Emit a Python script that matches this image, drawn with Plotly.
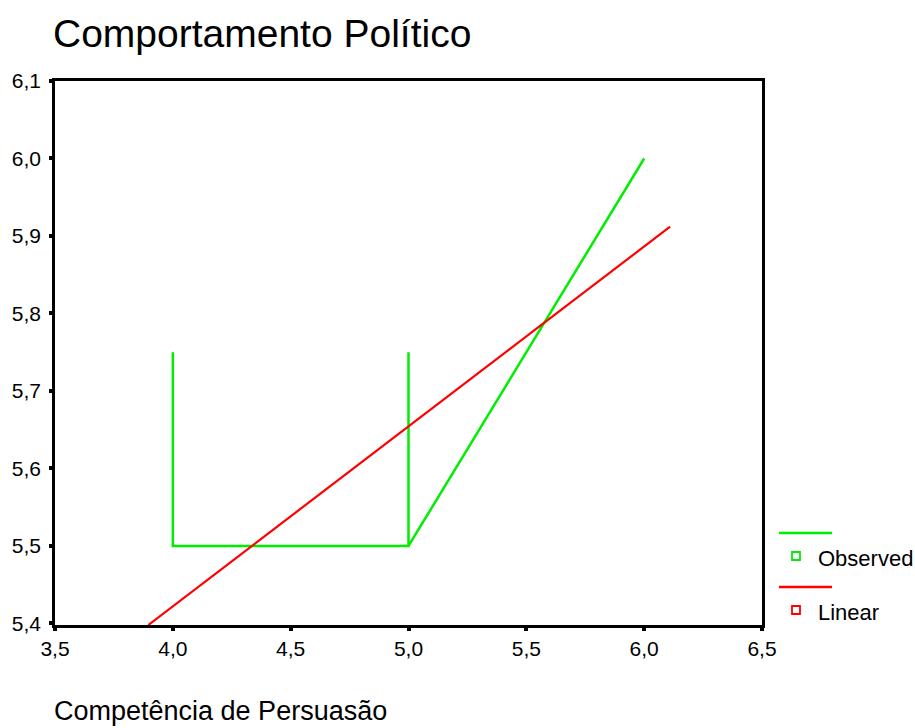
import plotly.graph_objects as go

# Observed values (Competência de Persuasão vs Comportamento Político)
obs_x = [4.0, 4.0, 5.0, 5.0, 5.0, 6.0]
obs_y = [5.75, 5.5, 5.5, 5.75, 5.5, 6.0]

# Linear fit, drawn across its plotted extent
lin_x = [3.896, 6.110]
lin_y = [5.398, 5.912]

x_ticks = [3.5, 4.0, 4.5, 5.0, 5.5, 6.0, 6.5]
x_tick_text = ["3,5", "4,0", "4,5", "5,0", "5,5", "6,0", "6,5"]
y_ticks = [5.4, 5.5, 5.6, 5.7, 5.8, 5.9, 6.0, 6.1]
y_tick_text = ["5,4", "5,5", "5,6", "5,7", "5,8", "5,9", "6,0", "6,1"]

legend_names = ["Observed", "Linear"]
legend_colors = ["#00ee00", "#ff0000"]

FONT = "Liberation Sans, Arial, sans-serif"

fig = go.Figure()
fig.add_trace(go.Scatter(x=obs_x, y=obs_y, mode="lines",
                         line=dict(color=legend_colors[0], width=2.5),
                         name=legend_names[0], showlegend=False))
fig.add_trace(go.Scatter(x=lin_x, y=lin_y, mode="lines",
                         line=dict(color=legend_colors[1], width=2.2),
                         name=legend_names[1], showlegend=False))

axis_common = dict(showgrid=False, zeroline=False, showline=True, mirror=True,
                   linecolor="black", linewidth=2.5, ticks="outside",
                   ticklen=3, tickwidth=4, tickcolor="black",
                   tickfont=dict(family=FONT, size=21, color="black"))

fig.update_xaxes(range=[3.5, 6.5], tickvals=x_ticks, ticktext=x_tick_text,
                 **axis_common)
fig.update_yaxes(range=[5.398, 6.1], tickvals=y_ticks, ticktext=y_tick_text,
                 ticklabelstandoff=4, **axis_common)

# Custom legend: a line sample above a small square and the series name
shapes = []
annotations = []
W, H = 915, 728
L, R, T, B = 55, 153, 81, 103
pw, ph = W - L - R, H - T - B


def px_to_paper(px, py):
    return (px - L) / pw, (H - B - py) / ph


for i, (name, color) in enumerate(zip(legend_names, legend_colors)):
    y_line = 533 + i * 54
    x0, yl = px_to_paper(779, y_line)
    x1, _ = px_to_paper(832, y_line)
    shapes.append(dict(type="line", xref="paper", yref="paper",
                       x0=x0, x1=x1, y0=yl, y1=yl,
                       line=dict(color=color, width=2.5)))
    sx0, sy0 = px_to_paper(792, y_line + 19)
    sx1, sy1 = px_to_paper(800, y_line + 27)
    shapes.append(dict(type="rect", xref="paper", yref="paper",
                       x0=sx0, x1=sx1, y0=sy1, y1=sy0,
                       line=dict(color=color, width=1.8),
                       fillcolor="white"))
    tx, ty = px_to_paper(816, y_line + 25)
    annotations.append(dict(x=tx, y=ty, xref="paper", yref="paper",
                            text=name, showarrow=False, xanchor="left",
                            yanchor="middle",
                            font=dict(family=FONT, size=22, color="black")))

ax_tx, ax_ty = px_to_paper(52, 711)
annotations.append(dict(x=ax_tx, y=ax_ty, xref="paper", yref="paper",
                        text="Competência de Persuasão", showarrow=False,
                        xanchor="left", yanchor="middle",
                        font=dict(family=FONT, size=27, color="black")))

fig.update_layout(
    width=W, height=H,
    margin=dict(l=L, r=R, t=T, b=B),
    paper_bgcolor="white", plot_bgcolor="white",
    title=dict(text="Comportamento Político", x=53 / W, xanchor="left",
               y=1 - 33 / H, yanchor="middle",
               font=dict(family=FONT, size=39, color="black")),
    shapes=shapes, annotations=annotations,
    showlegend=False,
)

fig.write_html("out.html")
